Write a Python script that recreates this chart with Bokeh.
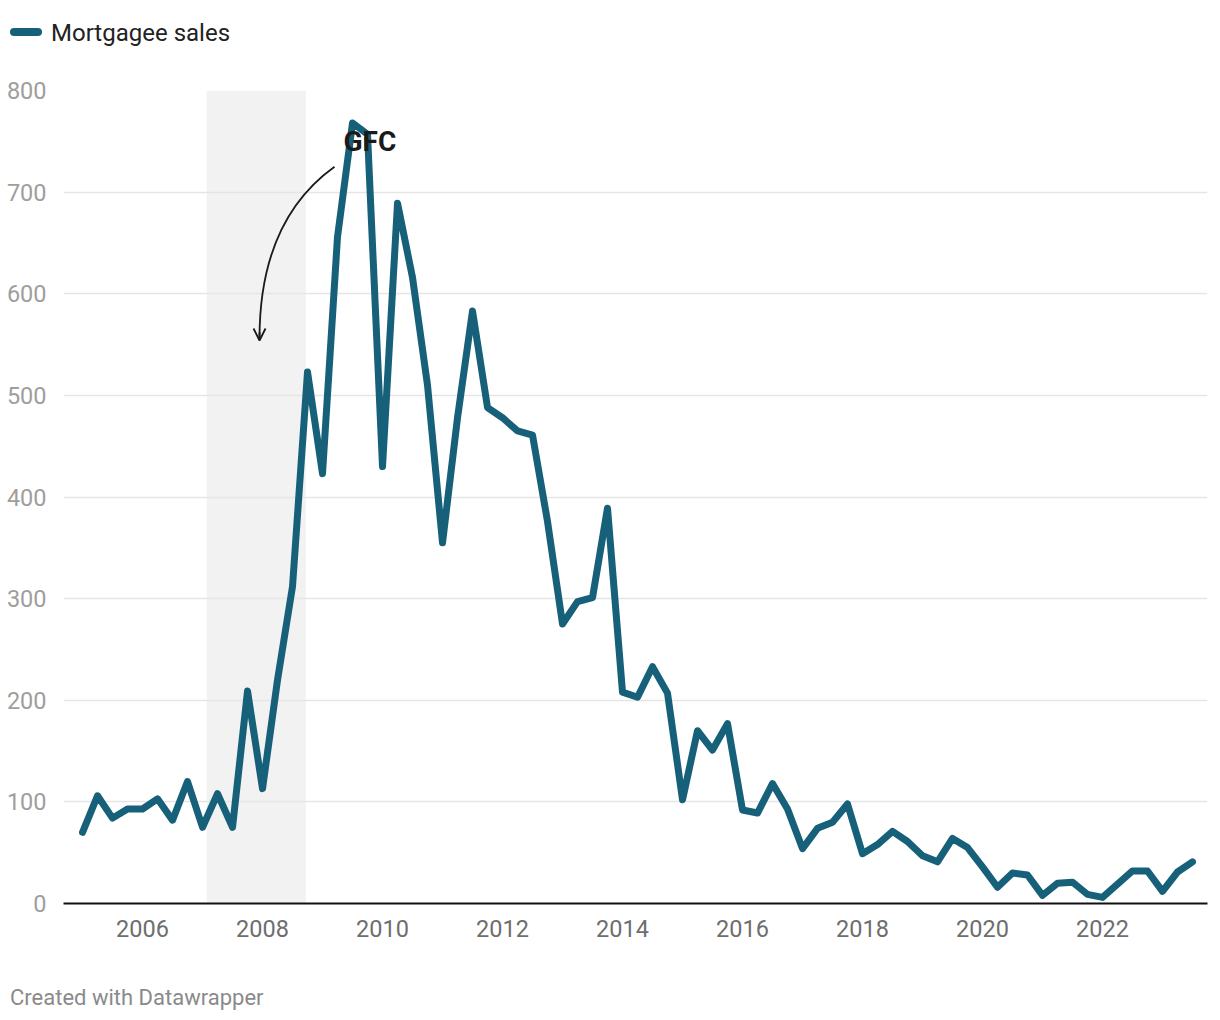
from bokeh.plotting import figure
from bokeh.models import (FixedTicker, BoxAnnotation, Label, Arrow, OpenHead, Div, Range1d)
from bokeh.layouts import column
from bokeh.embed import file_html
from bokeh.resources import INLINE

# ---- data: quarterly mortgagee sales, 2005 Q1 .. 2023 Q3 ----
start_year = 2005
quarters = [f"{start_year + i // 4}Q{i % 4 + 1}" for i in range(75)]
sales = [70, 106, 84, 93, 93, 103, 82, 120, 75, 108,
         75, 209, 113, 220, 312, 523, 423, 656, 768, 757,
         430, 689, 616, 510, 355, 478, 583, 488, 478, 465,
         461, 376, 275, 297, 301, 389, 208, 203, 233, 207,
         102, 170, 151, 177, 92, 89, 118, 93, 54, 74,
         80, 98, 49, 58, 71, 61, 47, 41, 64, 55,
         36, 16, 30, 28, 8, 20, 21, 9, 6, 19,
         32, 32, 12, 31, 41]
x_ticks = [2006, 2008, 2010, 2012, 2014, 2016, 2018, 2020, 2022]
y_ticks = [0, 100, 200, 300, 400, 500, 600, 700, 800]
series_name = "Mortgagee sales"
footer_text = "Created with Datawrapper"
gfc_start, gfc_end = 2007.07, 2008.72
gfc_label = "GFC"

x = [int(q[:4]) + (int(q[-1]) - 1) * 0.25 for q in quarters]

LINE = "#17607a"
FONT = "Roboto"
W = 1212

p = figure(width=W, height=890, output_backend="svg", toolbar_location=None,
           x_range=Range1d(2004.683, 2023.75), y_range=Range1d(0, 800),
           min_border_left=63, min_border_right=5, min_border_top=20, min_border_bottom=57)
p.outline_line_color = None
p.background_fill_color = "white"

# shaded GFC period (below grid)
p.add_layout(BoxAnnotation(left=gfc_start, right=gfc_end, fill_color="#f2f2f2",
                           fill_alpha=1, line_color=None, level="image"))

p.line(x, sales, line_color=LINE, line_width=7, line_join="round", line_cap="round")

# axes
p.xaxis.ticker = FixedTicker(ticks=x_ticks)
p.yaxis.ticker = FixedTicker(ticks=y_ticks)
p.xgrid.visible = False
p.ygrid.grid_line_color = "#e5e5e5"
p.ygrid.grid_line_width = 1.5

p.yaxis.axis_line_color = None
p.yaxis.major_tick_line_color = None
p.yaxis.minor_tick_line_color = None
p.yaxis.major_label_text_color = "#9e9e9e"
p.yaxis.major_label_text_font = FONT
p.yaxis.major_label_text_font_size = "23.5px"
p.yaxis.major_label_standoff = 11

p.xaxis.axis_line_color = "#111111"
p.xaxis.axis_line_width = 2
p.xaxis.major_tick_line_color = None
p.xaxis.minor_tick_line_color = None
p.xaxis.major_tick_out = 0
p.xaxis.major_label_text_color = "#6e6e6e"
p.xaxis.major_label_text_font = FONT
p.xaxis.major_label_text_font_size = "23.5px"
p.xaxis.major_label_standoff = 16

# GFC annotation
p.quadratic(x0=[2009.2], y0=[725], x1=[2007.95], y1=[556], cx=[2007.95], cy=[672],
            line_color="#1a1a1a", line_width=1.8)
p.add_layout(Arrow(end=OpenHead(size=12, line_color="#1a1a1a", line_width=1.8),
                   x_start=2007.95, y_start=562, x_end=2007.95, y_end=554,
                   line_color="#1a1a1a", line_width=1.8))
p.add_layout(Label(x=2009.35, y=750, text=gfc_label, text_font=FONT, text_font_style="bold",
                   text_font_size="28px", text_color="#1a1a1a",
                   text_align="left", text_baseline="middle"))

legend = Div(text=(
    f'<div style="position:relative;width:{W}px;height:70px;font-family:{FONT};">'
    f'<span style="position:absolute;left:10px;top:28px;width:32px;height:8px;border-radius:4px;background:{LINE};"></span>'
    f'<span style="position:absolute;left:51px;top:19px;font-size:24px;line-height:28px;color:#222;white-space:nowrap;">{series_name}</span>'
    '</div>'), width=W, height=70, margin=0)

footer = Div(text=(
    f'<div style="position:relative;width:{W}px;height:52px;font-family:{FONT};">'
    f'<span style="position:absolute;left:10px;top:25px;font-size:22px;line-height:26px;color:#8a8a8a;white-space:nowrap;">{footer_text}</span>'
    '</div>'), width=W, height=52, margin=0)

layout = column(legend, p, footer, spacing=0)
open("out.html", "w").write(file_html(layout, INLINE))
